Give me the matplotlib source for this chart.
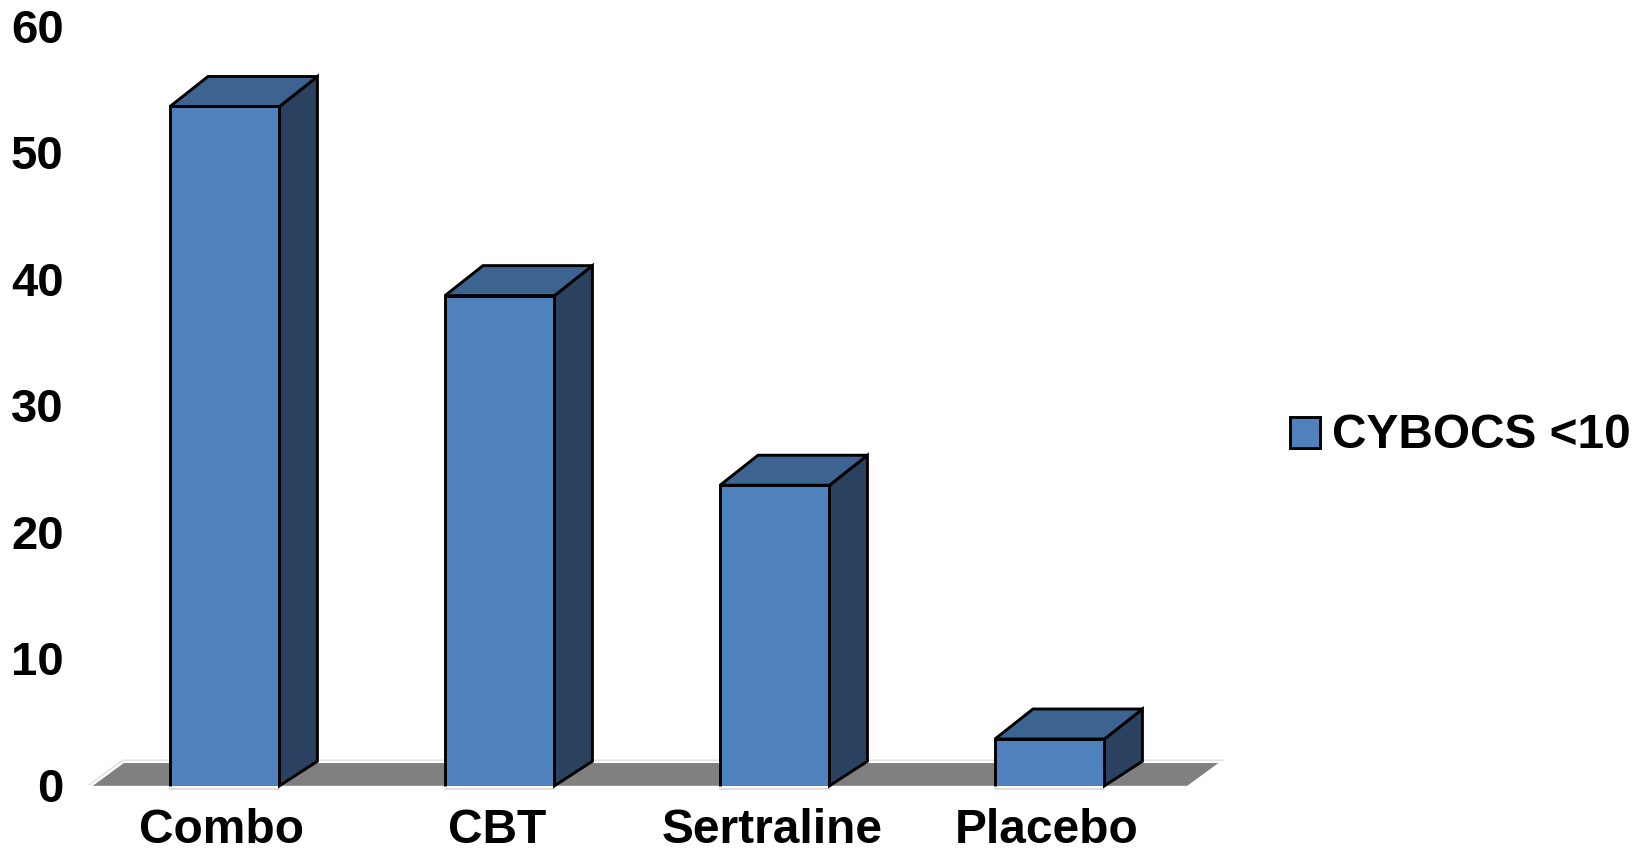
import matplotlib
matplotlib.use("Agg")
import matplotlib.pyplot as plt
from matplotlib.patches import Polygon, Patch, Rectangle
from matplotlib.legend_handler import HandlerPatch
from matplotlib.transforms import Affine2D

categories = ["Combo", "CBT", "Sertraline", "Placebo"]
values = [53.7, 38.75, 23.76, 3.7]
y_ticks = [0, 10, 20, 30, 40, 50, 60]
series_name = "CYBOCS <10"

FRONT, TOP, SIDE = "#4F81BD", "#3D6390", "#2A4260"
FLOOR = "#808080"
FAINT = "#e4e4e4"
FONT = "Liberation Sans"
FS = 34.5
W, H = 1650, 854

bar_w = 0.398
dx, dy_top, dy_bottom = 0.138, 2.37, 1.94
floor_dx, floor_dy = 0.113, 1.8
lw = 2.1

fig = plt.figure(figsize=(W / 100, H / 100), dpi=100)
ax = fig.add_axes([87.25 / W, 1 - 786.8 / H, 1100 / W, 759 / H])
ax.set_xlim(-0.5, 3.5)
ax.set_ylim(0, 60)
for s in ax.spines.values():
    s.set_visible(False)

# floor
xl, xr = -0.48, 3.5
ax.add_patch(Polygon([(xl, 0), (xr, 0), (xr + floor_dx, floor_dy), (xl + floor_dx, floor_dy)],
                     closed=True, fc=FLOOR, ec="none", clip_on=False, zorder=1))
ax.plot([xl - 0.012, xl + floor_dx - 0.004, xr + 0.13],
        [0.1, 2.02, 2.02], color=FAINT, lw=1.2, clip_on=False, zorder=1)

for i, v in enumerate(values):
    l, r = i - bar_w / 2, i + bar_w / 2
    z = 3 + i
    ax.plot([l, r], [-0.24, -0.24], color="#d8d8d8", lw=1.2, clip_on=False, zorder=1)
    ax.add_patch(Polygon([(r, 0), (r + dx, dy_bottom), (r + dx, v + dy_top), (r, v)],
                         closed=True, fc=SIDE, ec="black", lw=lw, joinstyle="miter", clip_on=False, zorder=z))
    ax.add_patch(Polygon([(l, v), (r, v), (r + dx, v + dy_top), (l + dx, v + dy_top)],
                         closed=True, fc=TOP, ec="black", lw=lw, joinstyle="miter", clip_on=False, zorder=z))
    ax.add_patch(Polygon([(l, 0), (r, 0), (r, v), (l, v)],
                         closed=True, fc=FRONT, ec="none", clip_on=False, zorder=z))
    ax.plot([l, l, r, r], [0, v, v, 0], color="black", lw=lw, solid_joinstyle="miter",
            solid_capstyle="butt", clip_on=False, zorder=z)

ax.set_xticks(range(len(categories)), categories)
ax.set_yticks(y_ticks)
ax.tick_params(axis="both", length=0)
ax.tick_params(axis="x", pad=15.3)
ax.tick_params(axis="y", pad=17)
for t in ax.get_xticklabels() + ax.get_yticklabels():
    t.set_fontfamily(FONT)
    t.set_fontweight("bold")
    t.set_color("black")
for t in ax.get_xticklabels():
    t.set_fontsize(FS)
for t in ax.get_yticklabels():
    t.set_fontsize(34)
for tick in ax.xaxis.get_major_ticks():
    tick.label1.set_transform(tick.label1.get_transform() + Affine2D().translate(-3, 0))
for tick in ax.yaxis.get_major_ticks():
    tick.label1.set_transform(tick.label1.get_transform() + Affine2D().translate(0, 2))


def lowered_square(legend, orig_handle, xdescent, ydescent, width, height, fontsize):
    return Rectangle((-xdescent, -ydescent - 0.05 * fontsize), width, height)


handle = Patch(fc=FRONT, ec="black", lw=lw, label=series_name)
fig.legend(handles=[handle], loc="center left", bbox_to_anchor=(1290 / W, 1 - 435.2 / H),
           frameon=False, handlelength=0.62, handleheight=0.62, handletextpad=0.25,
           borderpad=0, borderaxespad=0,
           handler_map={Patch: HandlerPatch(patch_func=lowered_square)},
           prop={"family": FONT, "weight": "bold", "size": 34.4})

fig.savefig("out.png", dpi=100, facecolor="white")
